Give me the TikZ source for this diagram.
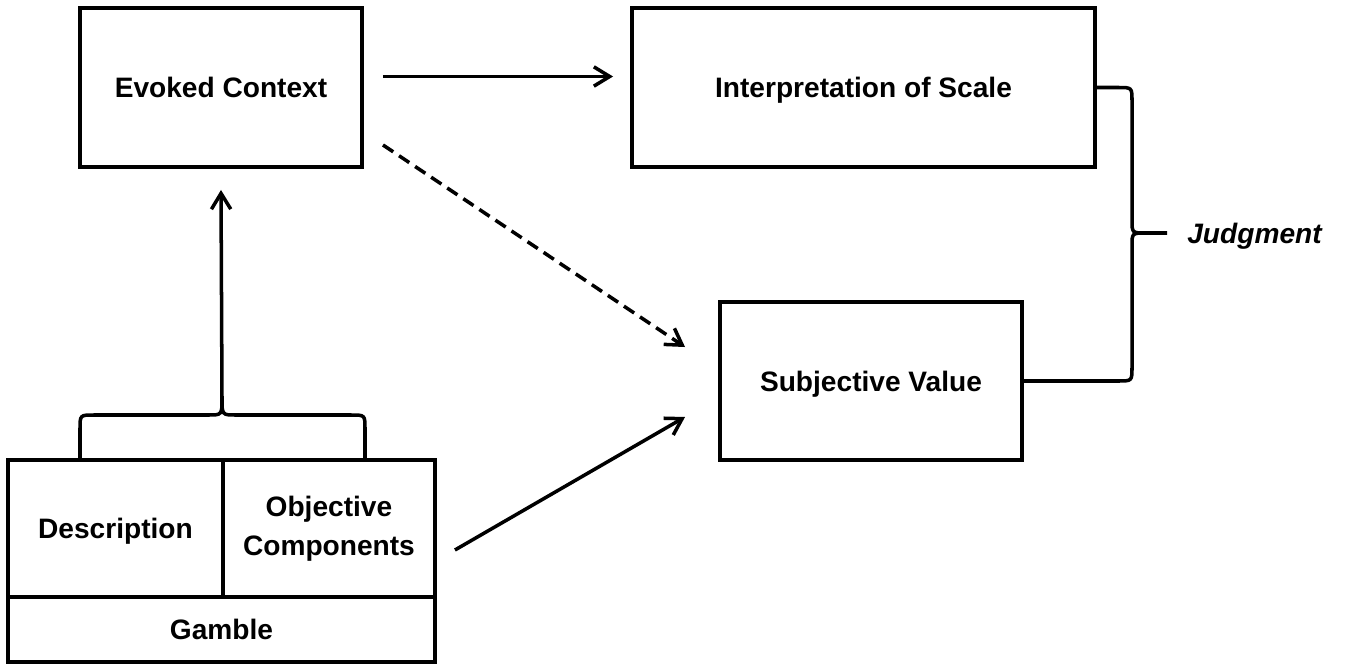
\documentclass[tikz,border=0pt]{standalone}
\usepackage{fontspec}
\setmainfont{Liberation Sans}
\usetikzlibrary{arrows.meta,positioning,calc}
\newcommand{\boxfont}{\fontsize{16}{22.5}\selectfont}

\begin{document}
\begin{tikzpicture}[x=0.02cm, y=-0.02cm,
  box/.style={draw, line width=2pt, align=center, inner sep=0pt, outer sep=0pt,
    text height=11.5pt, text depth=0pt, font=\bfseries\boxfont},
  link/.style={-{Straight Barb[length=9pt,width=11pt]}, line width=2pt}]
  \useasboundingbox (0,0) rectangle (1349,666);

  % Upper row
  \node[box, minimum width=5.64cm, minimum height=3.18cm] (evoked) at (221,87.5) {Evoked Context};
  \node[box, minimum width=9.26cm, minimum height=3.18cm] (interp) at (863.5,87.5) {Interpretation of Scale};
  \node[box, minimum width=6.04cm, minimum height=3.16cm] (subjective) at (871,381) {Subjective Value};

  % Gamble = description + objective components
  \node[box, minimum width=4.3cm, minimum height=2.74cm] (descr) at (115.5,528.5) {Description};
  \node[box, minimum width=4.24cm, minimum height=2.74cm, text height=, text depth=,
    right=0pt of descr] (objective) {Objective\\Components};
  \node[box, anchor=north west, minimum width=8.54cm, minimum height=1.3cm] (gamble) at (descr.south west) {Gamble};

  % Brace over the gamble
  \coordinate (gtip) at (222,398);
  \draw[line width=2pt] (80,460) -- (80,429) .. controls (80,415) .. (94,415) -- (208,415)
    .. controls (222,415) .. (gtip) .. controls (222,415) .. (236,415) -- (351,415)
    .. controls (365,415) .. (365,429) -- (365,460);
  \draw[link] (gtip) -- ($(evoked.south)+(0,23)$);

  % Arrows into scale and value
  \draw[link] ($(evoked.east)+(21,-11)$) -- ($(interp.west)+(-19,-11)$);
  \draw[link, dash pattern=on 7pt off 4pt] ($(evoked.south east)+(21,-22)$) -- ($(subjective.north west)+(-35,45)$);
  \draw[link] ($(objective.east)+(20,21.5)$) -- ($(subjective.west)+(-35,36)$);

  % Judgment brace
  \coordinate (jtip) at (1167,233);
  \draw[line width=2pt] (interp.east) -- (1118,87.5) .. controls (1132,87.5) .. (1132,101) -- (1132,220)
    .. controls (1132,233) .. (1146,233) -- (jtip) (1146,233) .. controls (1132,233) .. (1132,246)
    -- (1132,367) .. controls (1132,381) .. (1118,381) -- (subjective.east);
  \node[font=\bfseries\itshape\boxfont, inner sep=0pt, text height=11.5pt, text depth=0pt,
    right=0.4cm of jtip] (judgment) {Judgment};
\end{tikzpicture}
\end{document}
